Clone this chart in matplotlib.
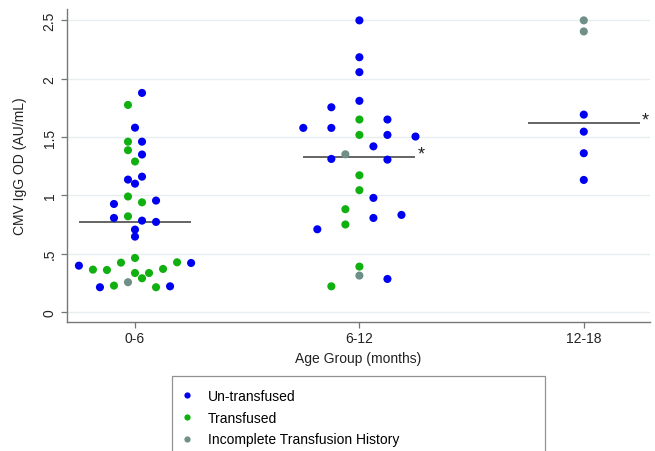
import matplotlib.pyplot as plt
from matplotlib.lines import Line2D
import numpy as np

plt.rcParams['font.family'] = ['Liberation Sans', 'DejaVu Sans']

groups = ["0-6", "6-12", "12-18"]

# values per age group, listed dot-plot row by row (top to bottom),
# left to right inside a row; status strings use the same order and
# a space marks the end of a row (U = un-transfused, T = transfused,
# I = incomplete history)
vals_0_6 = [1.775, 1.878, 1.58, 1.46, 1.46, 1.387, 1.35, 1.29, 1.135, 1.16, 1.10,
            0.926, 0.99, 0.94, 0.955, 0.806, 0.82, 0.783, 0.772, 0.706, 0.646,
            0.463, 0.397, 0.363, 0.36, 0.423, 0.334, 0.334, 0.369, 0.426, 0.42,
            0.212, 0.226, 0.255, 0.289, 0.212, 0.22]
stat_0_6 = "TU U TU TU T UU U UTTU UTUU U U T UTTTTTTTU UTITTU"

vals_6_12 = [2.5, 2.184, 2.056, 1.81, 1.755, 1.65, 1.65, 1.578, 1.578, 1.518,
             1.518, 1.504, 1.352, 1.42, 1.312, 1.172, 1.306, 1.044, 0.881, 0.978,
             0.709, 0.75, 0.806, 0.832, 0.389, 0.22, 0.312, 0.283]
stat_6_12 = "U U U U UTU UUTUU IU UTU T TU UTUU T TIU"

vals_12_18 = [2.5, 2.405, 1.692, 1.546, 1.361, 1.132]
stat_12_18 = "I I U U U U"

starred = [False, True, True]

colors = {"U": "#0000f0", "T": "#10b010", "I": "#6f8f89"}
labels = {"U": "Un-transfused", "T": "Transfused", "I": "Incomplete Transfusion History"}

fig = plt.figure(figsize=(6.55, 4.52), dpi=100)
ax = fig.add_axes([0.1023, 0.2854, 0.8897, 0.6926])

half = 0.25
all_vals = [vals_0_6, vals_6_12, vals_12_18]
all_stat = [stat_0_6, stat_6_12, stat_12_18]

for g, (vals, stat) in enumerate(zip(all_vals, all_stat)):
    pos = g + 1
    rows = stat.split()
    nmax = max(len(r) for r in rows)
    step = 2 * half / (nmax - 1) if nmax > 1 else 0
    xs, cs = [], []
    for r in rows:
        n = len(r)
        for i, s in enumerate(r):
            xs.append(pos + (i - (n - 1) / 2) * step)
            cs.append(colors[s])
    ax.scatter(xs, vals, s=34, c=cs, edgecolors='none', zorder=3)

    # median line, with a star on the groups marked as different
    med = np.median(vals)
    ax.hlines(med, pos - half, pos + half, color='#3a3a3a', lw=1.1, zorder=2)
    if starred[g]:
        ax.text(pos + half + 0.01, med - 0.05, "*", fontsize=13,
                ha='left', va='bottom', color='#222222')

ax.set_xlim(0.697, 3.294)
ax.set_ylim(-0.086, 2.598)
ax.set_xticks([1, 2, 3])
ax.set_xticklabels(groups)
ax.set_yticks([0, 0.5, 1, 1.5, 2, 2.5])
ax.set_yticklabels(["0", ".5", "1", "1.5", "2", "2.5"], rotation=90, va='center')

ax.grid(axis='y', color='#e8eef0', lw=1.0)
ax.set_axisbelow(True)
for side in ['top', 'right']:
    ax.spines[side].set_visible(False)
for side in ['left', 'bottom']:
    ax.spines[side].set_color('#777777')
    ax.spines[side].set_linewidth(1.0)
ax.tick_params(axis='both', length=4, width=0.9, color='#777777', labelsize=10,
               labelcolor='#222222')
ax.tick_params(axis='x', pad=2.5)

ax.set_xlabel("Age Group (months)", fontsize=10, color='#222222', labelpad=4)
ax.set_ylabel("CMV IgG OD (AU/mL)", fontsize=10, color='#222222', labelpad=11)

handles = [Line2D([], [], ls='none', marker='o', ms=4.5, mec='none', mfc=colors[k])
           for k in "UTI"]
leg = fig.legend(handles, [labels[k] for k in "UTI"], loc='upper left',
                 bbox_to_anchor=(172 / 655, 1 - 377 / 452, 373 / 655, 0.0),
                 mode='expand', borderaxespad=0, fontsize=10, frameon=True,
                 fancybox=False, edgecolor='#777777', handlelength=0.3,
                 handletextpad=1.35, labelspacing=0.55, borderpad=0.95)
leg.get_frame().set_linewidth(0.9)

fig.savefig("out.png", dpi=100)
